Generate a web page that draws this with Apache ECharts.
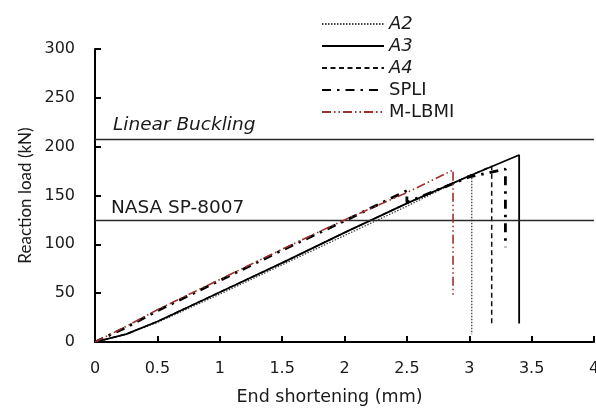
<!DOCTYPE html>
<html>
<head>
<meta charset="utf-8">
<script src="https://cdn.jsdelivr.net/npm/echarts@6/dist/echarts.min.js"></script>
<style>
html,body{margin:0;padding:0;background:#fff;}
#chart{width:596px;height:408px;}
</style>
</head>
<body>
<div id="chart"></div>
<script>
// Data
var xTicks = ['0', '0.5', '1', '1.5', '2', '2.5', '3', '3.5', '4'];
var yTicks = ['0', '50', '100', '150', '200', '250', '300'];

var a2X = [0, 0.25, 0.5, 1.0, 1.5, 2.0, 2.5, 3.02, 3.02];
var a2Y = [0, 8, 20, 49, 79, 109, 139, 172, 8];

var a3X = [0, 0.25, 0.5, 1.0, 1.5, 2.0, 2.5, 3.0, 3.4, 3.4];
var a3Y = [0, 8, 21, 51, 81, 112, 142, 170, 191.5, 19];

var a4X = [0, 0.25, 0.5, 1.0, 1.5, 2.0, 2.5, 3.0, 3.18, 3.18];
var a4Y = [0, 8, 21, 51, 81, 112, 142, 170, 180, 18];

var spliX = [0, 0.25, 0.5, 1.0, 1.5, 2.0, 2.5, 2.5, 3.0, 3.29, 3.29];
var spliY = [0, 15, 32, 63, 94, 124, 155, 143, 169, 177, 97];

var mlbmiX = [0, 0.25, 0.5, 1.0, 1.5, 2.0, 2.5, 2.87, 2.87];
var mlbmiY = [0, 16, 33, 64, 95, 125, 153, 176, 48];

var linearBuckling = 208;
var nasaSP8007 = 125;

function pairs(xs, ys) {
  return xs.map(function (x, i) { return [x, ys[i]]; });
}

var FONT = '"DejaVu Sans"';
var FONT_V = 'Lato';
var TXT = '#1a1a1a';

var chart = echarts.init(document.getElementById('chart'), null, {renderer: 'canvas'});

var option = {
  backgroundColor: '#ffffff',
  animation: false,
  textStyle: {fontFamily: FONT},
  grid: {left: 95, right: 2, top: 49, bottom: 66, containLabel: false, outerBoundsMode: 'none'},
  legend: {
    orient: 'vertical',
    left: 316,
    top: 10,
    itemWidth: 62,
    itemHeight: 14,
    itemGap: 4,
    itemStyle: {opacity: 0},
    textStyle: {fontFamily: FONT, fontSize: 18, color: TXT, lineHeight: 18},
    data: [
      {name: 'A2', textStyle: {fontStyle: 'italic'}},
      {name: 'A3', textStyle: {fontStyle: 'italic'}},
      {name: 'A4', textStyle: {fontStyle: 'italic'}},
      {name: 'SPLI'},
      {name: 'M-LBMI'}
    ]
  },
  xAxis: {
    type: 'value',
    min: 0, max: 4, interval: 0.5,
    name: 'End shortening (mm)',
    nameLocation: 'middle',
    nameGap: 46,
    nameTextStyle: {fontFamily: FONT, fontSize: 17.5, color: TXT, padding: [0, 30, 0, 0]},
    axisLine: {lineStyle: {color: '#000', width: 2}},
    axisTick: {inside: true, length: 6, lineStyle: {color: '#000', width: 2}},
    axisLabel: {
      fontFamily: FONT, fontSize: 16, color: TXT, margin: 19,
      formatter: function (v) { var i = Math.round(v / 0.5); return xTicks[i]; }
    },
    splitLine: {show: false}
  },
  yAxis: {
    type: 'value',
    min: 0, max: 300, interval: 50,
    name: 'Reaction load (kN)',
    nameLocation: 'middle',
    nameGap: 58,
    nameTextStyle: {fontFamily: FONT_V, fontSize: 17, color: TXT},
    axisLine: {show: true, lineStyle: {color: '#000', width: 2}},
    axisTick: {show: true, inside: true, length: 6, lineStyle: {color: '#000', width: 2}},
    axisLabel: {
      fontFamily: FONT, fontSize: 16, color: TXT, margin: 20,
      formatter: function (v) { return yTicks[Math.round(v / 50)]; }
    },
    splitLine: {show: false}
  },
  series: [
    {
      name: 'A2', type: 'line', symbol: 'none', z: 3,
      data: pairs(a2X, a2Y),
      lineStyle: {color: '#444', width: 1.3, type: [1.5, 1.5]},
      itemStyle: {color: '#444'}
    },
    {
      name: 'A3', type: 'line', symbol: 'none', z: 4,
      data: pairs(a3X, a3Y),
      lineStyle: {color: '#000', width: 1.8, type: 'solid'},
      itemStyle: {color: '#000'},
      markLine: {
        silent: true,
        symbol: ['none', 'none'],
        lineStyle: {color: '#2a2a2a', width: 1.4, type: 'solid'},
        data: [
          {
            yAxis: linearBuckling,
            label: {
              show: true, position: 'insideStartTop', formatter: 'Linear Buckling',
              fontFamily: FONT, fontSize: 18.5, fontStyle: 'italic', color: TXT,
              distance: [18, 4]
            }
          },
          {
            yAxis: nasaSP8007,
            label: {
              show: true, position: 'insideStartTop', formatter: 'NASA SP-8007',
              fontFamily: FONT, fontSize: 18.5, color: TXT,
              distance: [16, 2]
            }
          }
        ]
      }
    },
    {
      name: 'A4', type: 'line', symbol: 'none', z: 3,
      data: pairs(a4X, a4Y),
      lineStyle: {color: '#111', width: 1.5, type: [5, 3.5]},
      itemStyle: {color: '#111'}
    },
    {
      name: 'SPLI', type: 'line', symbol: 'none', z: 5,
      data: pairs(spliX, spliY),
      lineStyle: {color: '#000', width: 2.8, type: [9, 6, 2.5, 6]},
      itemStyle: {color: '#000'}
    },
    {
      name: 'M-LBMI', type: 'line', symbol: 'none', z: 5,
      data: pairs(mlbmiX, mlbmiY),
      lineStyle: {color: '#9e2f2a', width: 1.6, type: [9, 3, 1.5, 3, 1.5, 3]},
      itemStyle: {color: '#9e2f2a'}
    }
  ]
};

chart.setOption(option);
</script>
</body>
</html>
